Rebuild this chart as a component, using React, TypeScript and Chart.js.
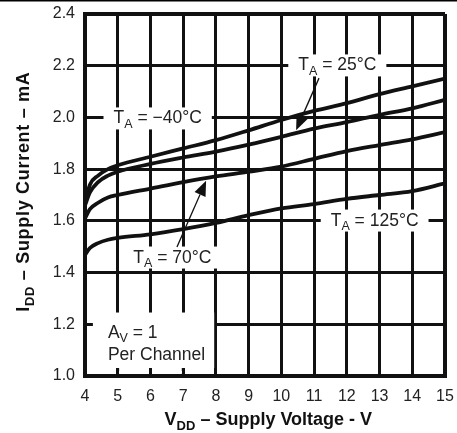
import React, { useEffect, useRef } from "react";
import { Chart, registerables } from "chart.js";

Chart.register(...registerables);

// ---- data ----
const voltages = [4, 4.15, 4.4, 4.7, 5, 6, 7, 8, 9, 10, 11, 12, 13, 14, 15];
const iddMinus40 = [1.67, 1.74, 1.775, 1.8, 1.815, 1.848, 1.88, 1.912, 1.95, 1.99, 2.025, 2.055, 2.09, 2.12, 2.15];
const idd25 = [1.66, 1.71, 1.75, 1.775, 1.79, 1.82, 1.845, 1.868, 1.895, 1.925, 1.957, 1.982, 2.01, 2.035, 2.068];
const idd70 = [1.61, 1.645, 1.67, 1.69, 1.7, 1.725, 1.75, 1.772, 1.79, 1.81, 1.84, 1.87, 1.893, 1.915, 1.943];
const idd125 = [1.468, 1.495, 1.514, 1.527, 1.534, 1.548, 1.568, 1.592, 1.622, 1.648, 1.665, 1.685, 1.7, 1.715, 1.745];

const xMin = 4;
const xMax = 15;
const yMin = 1.0;
const yMax = 2.4;
const yStep = 0.2;

// annotations (data coordinates)
const tempLabels = ["\u221240\u00B0C", "25\u00B0C", "70\u00B0C", "125\u00B0C"];
const tempLabelX = [6.22, 11.71, 6.67, 12.85];
const tempLabelY = [2.0, 2.205, 1.462, 1.605];

const arrowFromX = [11.15, 6.81];
const arrowFromY = [2.152, 1.499];
const arrowToX = [10.45, 7.7];
const arrowToY = [1.95, 1.755];

const gainLeftX = 4.7;
const gainLineY = [1.172, 1.085];

const FONT = '"Liberation Sans", Arial, Helvetica, sans-serif';

type Part = { t: string; sub?: boolean };

function setFont(ctx: CanvasRenderingContext2D, size: number, bold: boolean) {
  ctx.font = `${bold ? "bold " : ""}${size}px ${FONT}`;
}

function measureRich(
  ctx: CanvasRenderingContext2D,
  parts: Part[],
  size: number,
  subSize: number,
  bold: boolean,
  ls = 0
) {
  let w = 0;
  for (const p of parts) {
    setFont(ctx, p.sub ? subSize : size, bold);
    for (const ch of p.t) w += ctx.measureText(ch).width + ls;
  }
  return w - ls;
}

function drawRich(
  ctx: CanvasRenderingContext2D,
  parts: Part[],
  x: number,
  baseline: number,
  size: number,
  subSize: number,
  subDy: number,
  bold: boolean,
  ls = 0
) {
  ctx.textAlign = "left";
  ctx.textBaseline = "alphabetic";
  let cx = x;
  for (const p of parts) {
    setFont(ctx, p.sub ? subSize : size, bold);
    if (ls === 0) {
      ctx.fillText(p.t, cx, baseline + (p.sub ? subDy : 0));
      cx += ctx.measureText(p.t).width;
    } else {
      for (const ch of p.t) {
        ctx.fillText(ch, cx, baseline + (p.sub ? subDy : 0));
        cx += ctx.measureText(ch).width + ls;
      }
    }
  }
}

function drawArrow(ctx: CanvasRenderingContext2D, x1: number, y1: number, x2: number, y2: number) {
  const ang = Math.atan2(y2 - y1, x2 - x1);
  const len = 15;
  const hw = 6;
  const bx = x2 - len * Math.cos(ang);
  const by = y2 - len * Math.sin(ang);
  ctx.beginPath();
  ctx.moveTo(x1, y1);
  ctx.lineTo(bx, by);
  ctx.lineWidth = 1.3;
  ctx.stroke();
  ctx.beginPath();
  ctx.moveTo(x2, y2);
  ctx.lineTo(bx + hw * Math.sin(ang), by - hw * Math.cos(ang));
  ctx.lineTo(bx - hw * Math.sin(ang), by + hw * Math.cos(ang));
  ctx.closePath();
  ctx.fill();
}

const LBL = 17.5;
const LBL_SUB = 12.5;

const annotPlugin = {
  id: "annotations",
  beforeDatasetsDraw(chart: any) {
    const { ctx, scales, chartArea } = chart;
    const xs = scales.x;
    const ys = scales.y;
    ctx.save();
    // temperature labels with white boxes
    tempLabels.forEach((lab, i) => {
      const parts: Part[] = [{ t: "T" }, { t: "A", sub: true }, { t: " = " + lab }];
      const cx = xs.getPixelForValue(tempLabelX[i]);
      const cy = ys.getPixelForValue(tempLabelY[i]);
      const w = measureRich(ctx, parts, LBL, LBL_SUB, false);
      const padX = 10;
      const h = 22;
      ctx.fillStyle = "#fff";
      ctx.fillRect(cx - w / 2 - padX, cy - h / 2 + 1, w + 2 * padX, h);
      ctx.fillStyle = "#222";
      drawRich(ctx, parts, cx - w / 2, cy + 6, LBL, LBL_SUB, 4.5, false);
    });
    // gain / per channel box
    const line1: Part[] = [{ t: "A" }, { t: "V", sub: true }, { t: " = 1" }];
    const line2: Part[] = [{ t: "Per Channel" }];
    const lx = xs.getPixelForValue(gainLeftX);
    const y1 = ys.getPixelForValue(gainLineY[0]);
    const y2 = ys.getPixelForValue(gainLineY[1]);
    const w = Math.max(
      measureRich(ctx, line1, LBL, LBL_SUB, false),
      measureRich(ctx, line2, LBL, LBL_SUB, false)
    );
    const boxL = lx - 15;
    const boxR = lx + w + 9;
    const boxT = y1 - 19;
    const boxB = y2 + 14;
    ctx.fillStyle = "#fff";
    ctx.fillRect(boxL, boxT, boxR - boxL, boxB - boxT);
    // dashed remnants of grid lines below the box
    ctx.strokeStyle = "#111";
    ctx.lineWidth = 2.8;
    ctx.setLineDash([3, 2.5]);
    for (let v = xMin + 1; v < xMax; v++) {
      const px = xs.getPixelForValue(v);
      if (px > boxL && px < boxR) {
        ctx.beginPath();
        ctx.moveTo(px, boxB);
        ctx.lineTo(px, chartArea.bottom);
        ctx.stroke();
      }
    }
    ctx.setLineDash([]);
    ctx.fillStyle = "#222";
    drawRich(ctx, line1, lx, y1 + 6, LBL, LBL_SUB, 4.5, false);
    drawRich(ctx, line2, lx, y2 + 6, LBL, LBL_SUB, 4.5, false);
    ctx.restore();
  },
  afterDatasetsDraw(chart: any) {
    const { ctx, scales } = chart;
    ctx.save();
    ctx.strokeStyle = "#111";
    ctx.fillStyle = "#111";
    for (let i = 0; i < arrowFromX.length; i++) {
      drawArrow(
        ctx,
        scales.x.getPixelForValue(arrowFromX[i]),
        scales.y.getPixelForValue(arrowFromY[i]),
        scales.x.getPixelForValue(arrowToX[i]),
        scales.y.getPixelForValue(arrowToY[i])
      );
    }
    ctx.restore();
  },
  afterDraw(chart: any) {
    const { ctx, chartArea, width } = chart;
    ctx.save();
    ctx.fillStyle = "#000";
    ctx.fillRect(0, 0, width, 1.5);
    ctx.fillStyle = "#111";
    // x title
    const xParts: Part[] = [{ t: "V" }, { t: "DD", sub: true }, { t: " \u2013 Supply Voltage - V" }];
    const xw = measureRich(ctx, xParts, 18, 13, true);
    const xc = (chartArea.left + chartArea.right) / 2 + 4;
    drawRich(ctx, xParts, xc - xw / 2, 425, 18, 13, 5, true);
    // y title
    const yParts: Part[] = [{ t: "I" }, { t: "DD", sub: true }, { t: " \u2013 Supply Current \u2013 mA" }];
    const ls = 0.7;
    const yw = measureRich(ctx, yParts, 18, 13, true, ls);
    ctx.translate(29, (chartArea.top + chartArea.bottom) / 2 - 3);
    ctx.rotate(-Math.PI / 2);
    drawRich(ctx, yParts, -yw / 2, 0, 18, 13, 5, true, ls);
    ctx.restore();
  },
};

function toPoints(ys: number[]) {
  return voltages.map((v, i) => ({ x: v, y: ys[i] }));
}

export default function App() {
  const ref = useRef<HTMLCanvasElement>(null);
  useEffect(() => {
    document.body.style.margin = "0";
    const lineStyle = {
      borderColor: "#111",
      borderWidth: 3.8,
      pointRadius: 0,
      fill: false,
      cubicInterpolationMode: "monotone" as const,
    };
    const chart = new Chart(ref.current as HTMLCanvasElement, {
      type: "line",
      data: {
        datasets: [
          { label: "TA = -40°C", data: toPoints(iddMinus40), ...lineStyle },
          { label: "TA = 25°C", data: toPoints(idd25), ...lineStyle },
          { label: "TA = 70°C", data: toPoints(idd70), ...lineStyle },
          { label: "TA = 125°C", data: toPoints(idd125), ...lineStyle },
        ],
      },
      options: {
        animation: false,
        responsive: false,
        layout: { padding: { left: 0, right: 12, top: 14, bottom: 0 } },
        plugins: { legend: { display: false }, tooltip: { enabled: false } },
        scales: {
          x: {
            type: "linear",
            min: xMin,
            max: xMax,
            afterFit: (s: any) => {
              s.height = 57;
            },
            ticks: {
              stepSize: 1,
              padding: 0,
              color: "#222",
              font: { family: FONT, size: 16, lineHeight: 2.6 },
              callback: (v: any) => String(v),
            },
            grid: {
              color: "#111",
              drawTicks: false,
              lineWidth: (c: any) => (c.tick && Math.abs(c.tick.value - xMax) < 1e-6 ? 4 : 3),
            },
            border: { display: true, color: "#111", width: 4 },
          },
          y: {
            type: "linear",
            min: yMin,
            max: yMax,
            afterFit: (s: any) => {
              s.width = 85;
            },
            ticks: {
              stepSize: yStep,
              padding: 10,
              color: "#222",
              font: { family: FONT, size: 16, lineHeight: 0.4 },
              callback: (v: any) => Number(v).toFixed(1),
            },
            grid: {
              color: "#111",
              drawTicks: false,
              lineWidth: (c: any) => (c.tick && Math.abs(c.tick.value - yMax) < 1e-6 ? 4 : 3),
            },
            border: { display: true, color: "#111", width: 4 },
          },
        },
      },
      plugins: [annotPlugin],
    });
    return () => chart.destroy();
  }, []);
  return (
    <div style={{ width: 457, height: 433 }}>
      <canvas ref={ref} width={457} height={433} style={{ display: "block", width: 457, height: 433 }} />
    </div>
  );
}
